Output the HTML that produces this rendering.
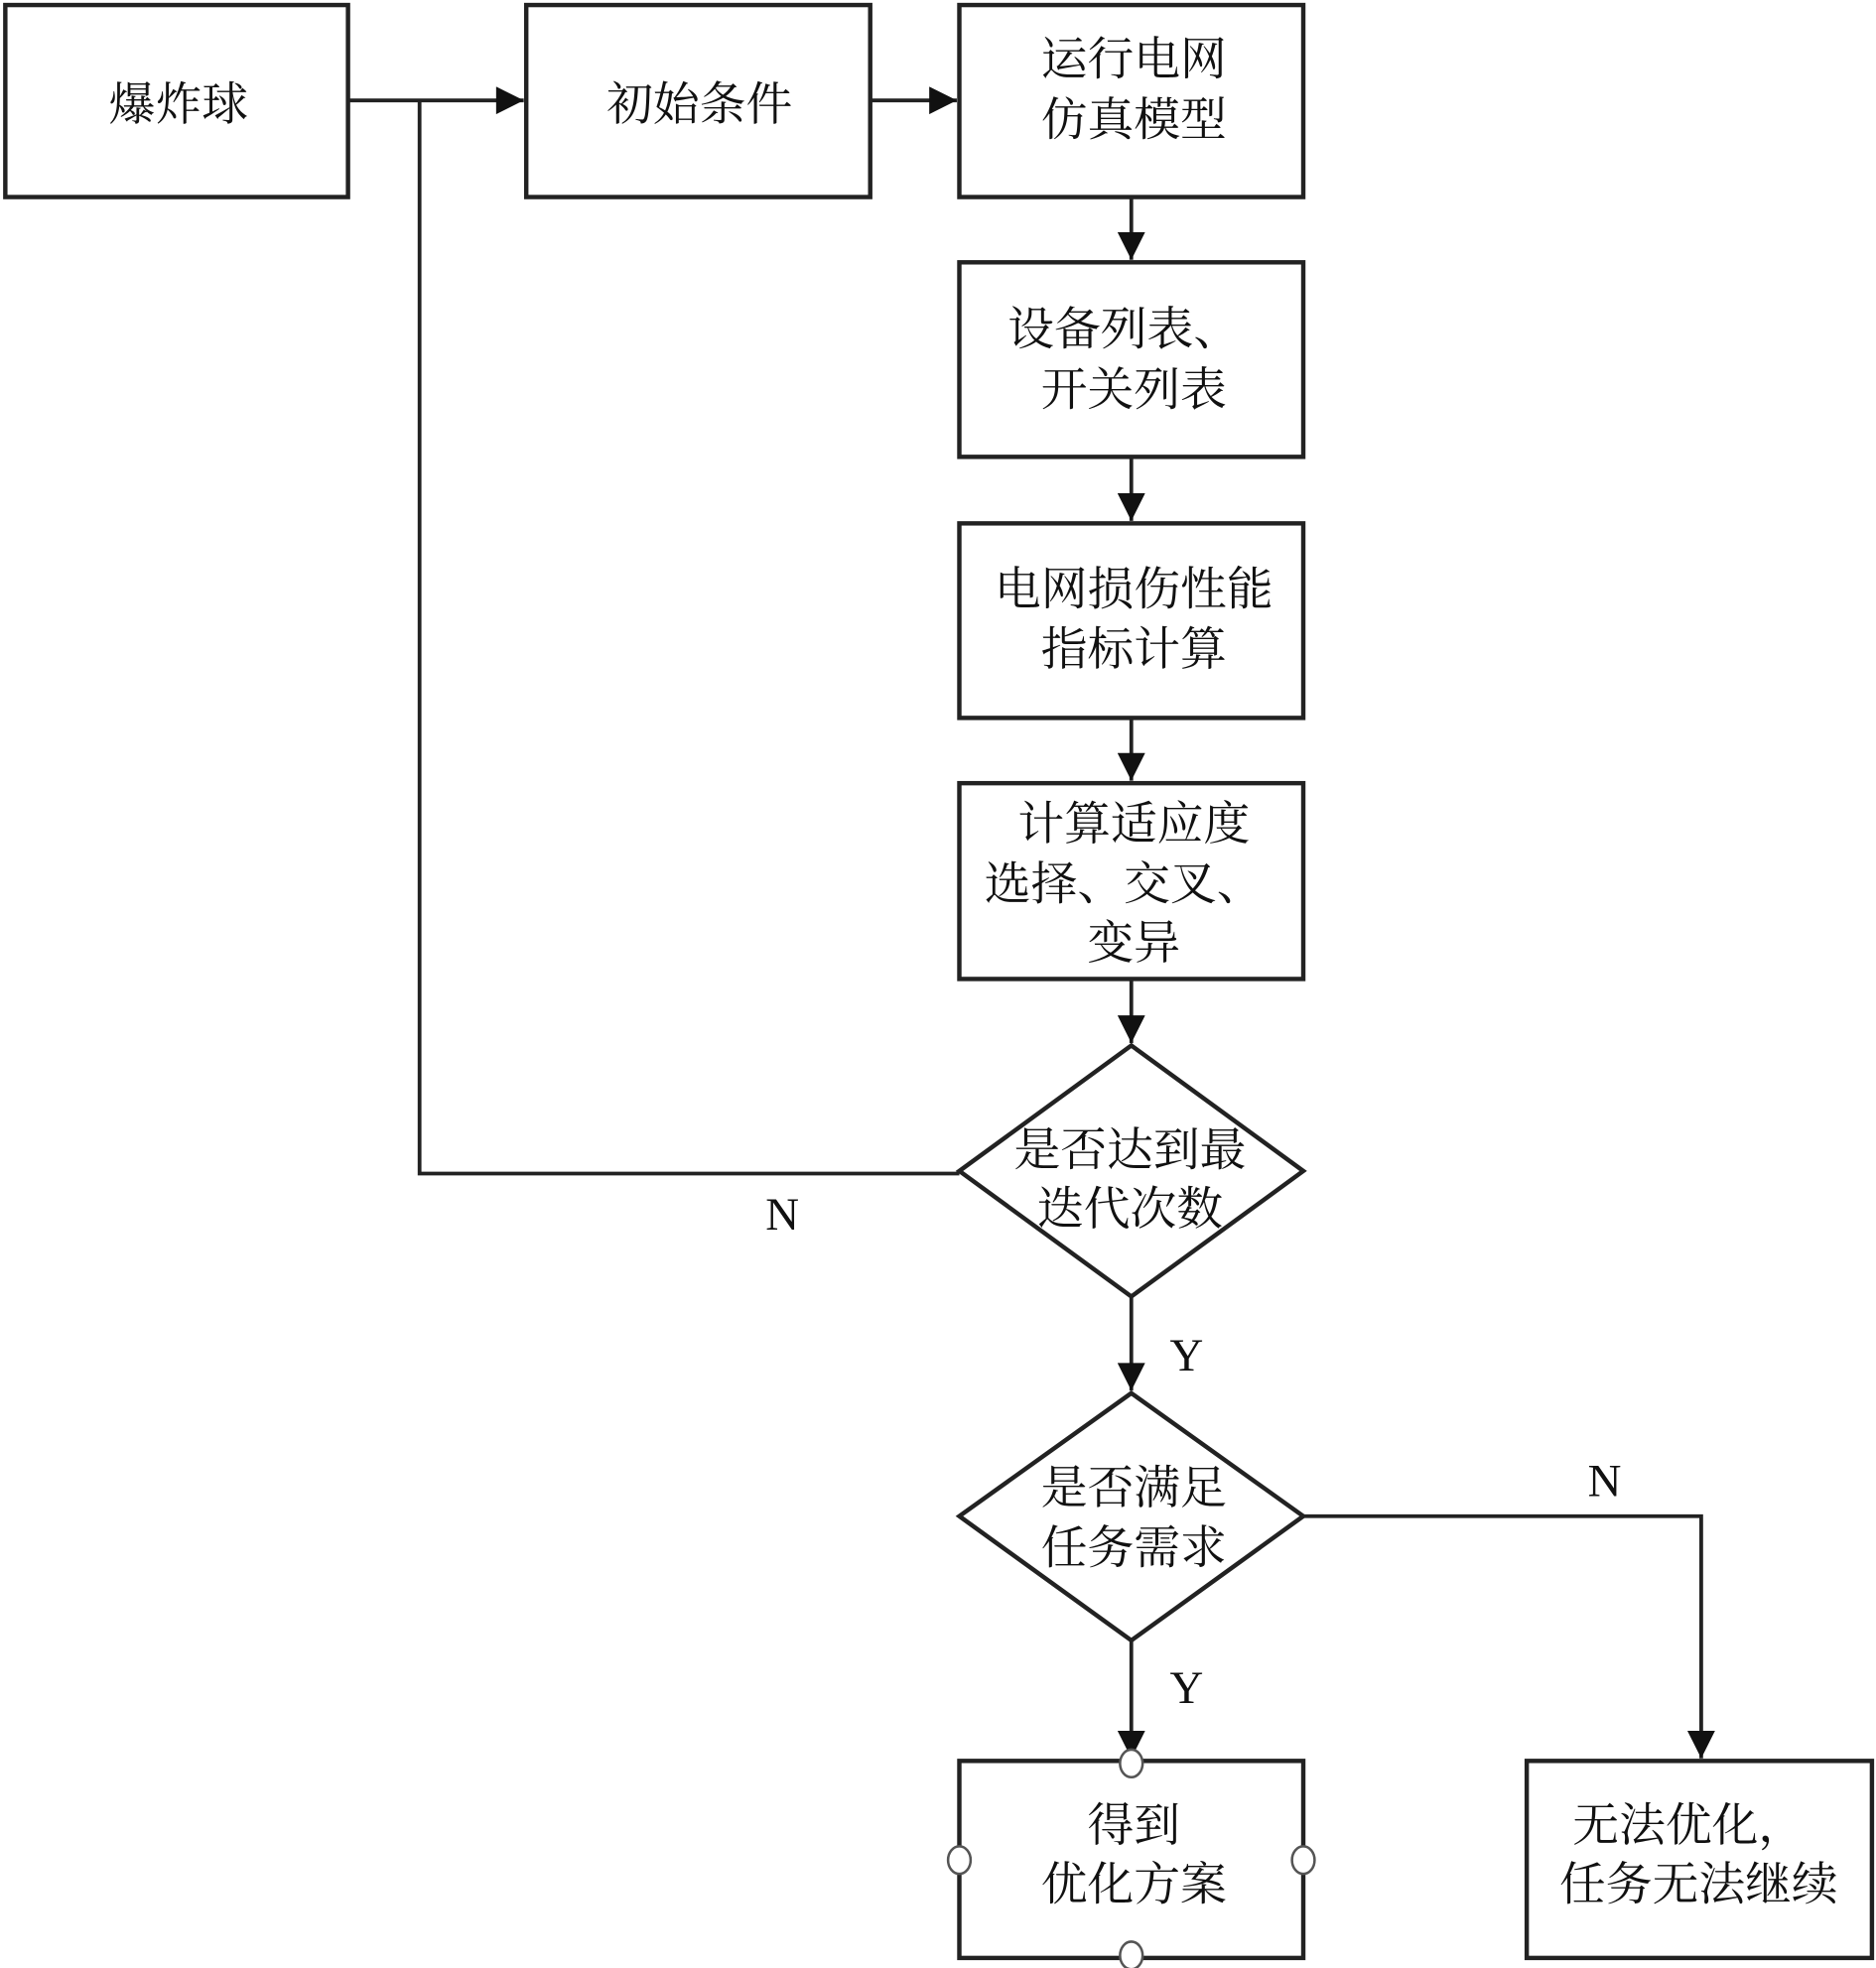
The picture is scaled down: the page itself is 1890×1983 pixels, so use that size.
<!DOCTYPE html>
<html><head><meta charset="utf-8"><style>
html,body{margin:0;padding:0;background:#fff;}
svg{display:block;}
text{font-family:"Liberation Serif","Noto Serif CJK SC","Noto Sans CJK SC",serif;font-size:37px;fill:#111;text-anchor:middle;dominant-baseline:central;}
</style></head><body>
<svg width="1890" height="1983" viewBox="0 0 1494 1568" xmlns="http://www.w3.org/2000/svg">
<defs><marker id="a" markerWidth="10" markerHeight="10" refX="9" refY="5" orient="auto" markerUnits="userSpaceOnUse" viewBox="0 0 10 10"><path d="M0,0 L10,5 L0,10 z" fill="#111"/></marker>
<marker id="b" viewBox="0 0 10 10" refX="10" refY="5" markerWidth="24" markerHeight="22" orient="auto" markerUnits="userSpaceOnUse"><path d="M0,0 L10,5 L0,10 z" fill="#111"/></marker></defs>
<g fill="none" stroke="#222" stroke-width="3.5">
<rect x="4" y="4" width="273" height="153"/>
<rect x="419" y="4" width="274" height="153"/>
<rect x="764" y="4" width="274" height="153"/>
<rect x="764" y="209" width="274" height="155"/>
<rect x="764" y="417" width="274" height="155"/>
<rect x="764" y="624" width="274" height="156"/>
<polygon points="901,833 1038,933 901,1033 764,933"/>
<polygon points="901,1110 1038,1208 901,1307 764,1208"/>
<rect x="764" y="1403" width="274" height="157"/>
<rect x="1216" y="1403" width="275" height="157"/>
</g>
<g fill="none" stroke="#222" stroke-width="3">
<line x1="277" y1="80" x2="417" y2="80" marker-end="url(#b)"/>
<line x1="693" y1="80" x2="762" y2="80" marker-end="url(#b)"/>
<line x1="901" y1="157" x2="901" y2="207" marker-end="url(#b)"/>
<line x1="901" y1="364" x2="901" y2="415" marker-end="url(#b)"/>
<line x1="901" y1="572" x2="901" y2="622" marker-end="url(#b)"/>
<line x1="901" y1="780" x2="901" y2="831" marker-end="url(#b)"/>
<line x1="901" y1="1033" x2="901" y2="1108" marker-end="url(#b)"/>
<line x1="901" y1="1307" x2="901" y2="1401" marker-end="url(#b)"/>
<polyline points="764,935 334,935 334,80"/>
<polyline points="1038,1208 1355,1208 1355,1401" marker-end="url(#b)"/>
</g>
<g fill="#fff" stroke="#555" stroke-width="2">
<ellipse cx="901" cy="1405" rx="9" ry="11"/>
<ellipse cx="901" cy="1558" rx="9" ry="11"/>
<ellipse cx="764" cy="1482" rx="9" ry="11"/>
<ellipse cx="1038" cy="1482" rx="9" ry="11"/>
</g>
<text x="142" y="84">爆炸球</text>
<text x="557" y="84">初始条件</text>
<text x="903" y="48">运行电网</text>
<text x="903" y="96">仿真模型</text>
<text x="895" y="263">设备列表、</text>
<text x="903" y="311">开关列表</text>
<text x="903" y="470">电网损伤性能</text>
<text x="903" y="518">指标计算</text>
<text x="903" y="657">计算适应度</text>
<text x="895" y="705">选择、交叉、</text>
<text x="903" y="752">变异</text>
<text x="900" y="917">是否达到最</text>
<text x="900" y="964">迭代次数</text>
<text x="903" y="1186">是否满足</text>
<text x="903" y="1234">任务需求</text>
<text x="903" y="1455">得到</text>
<text x="903" y="1502">优化方案</text>
<text x="1345" y="1455">无法优化，</text>
<text x="1353" y="1502">任务无法继续</text>
<text x="623" y="968">N</text>
<text x="945" y="1080">Y</text>
<text x="945" y="1345">Y</text>
<text x="1278" y="1180">N</text>
</svg>
</body></html>
